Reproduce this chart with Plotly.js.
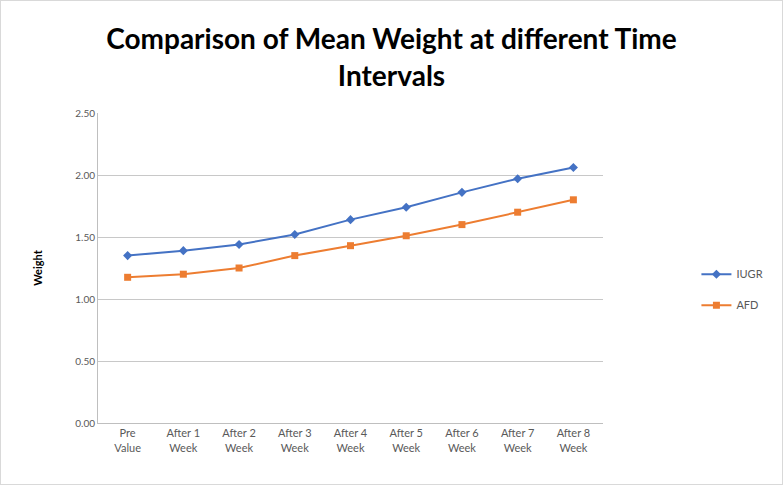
<!DOCTYPE html>
<html>
<head>
<meta charset="utf-8">
<script src="https://cdn.plot.ly/plotly-3.0.1.min.js"></script>
<style>
html,body{margin:0;padding:0;background:#fff;}
#chart{width:781px;height:483px;border:1px solid #d9d9d9;}
</style>
</head>
<body>
<div id="chart"></div>
<script>
const categories = ["Pre<br>Value","After 1<br>Week","After 2<br>Week","After 3<br>Week","After 4<br>Week","After 5<br>Week","After 6<br>Week","After 7<br>Week","After 8<br>Week"];
const iugr = [1.35, 1.39, 1.44, 1.52, 1.64, 1.74, 1.86, 1.97, 2.06];
const afd = [1.175, 1.20, 1.25, 1.35, 1.43, 1.51, 1.60, 1.70, 1.80];
const yTicks = [0, 0.5, 1.0, 1.5, 2.0, 2.5];

const traces = [
  {x: categories, y: iugr, name: "IUGR", type: "scatter", mode: "lines+markers", legendgroup: "g1",
   line: {color: "#4472C4", width: 2}, marker: {symbol: "diamond", size: 7, color: "#4472C4"}},
  {x: categories, y: afd, name: "AFD", type: "scatter", mode: "lines+markers", legendgroup: "g2",
   line: {color: "#ED7D31", width: 2}, marker: {symbol: "square", size: 7, color: "#ED7D31"}}
];

const layout = {
  width: 781, height: 483,
  margin: {l: 97, r: 179, t: 112, b: 61},
  paper_bgcolor: "#fff", plot_bgcolor: "#fff",
  font: {family: "Lato, 'Open Sans', sans-serif", color: "#595959"},
  title: {text: "<b>Comparison of Mean Weight at different Time<br>Intervals</b>",
          x: 0.5, xanchor: "center", y: 0.9, yanchor: "top",
          font: {size: 28, color: "#000", family: "Lato, 'Open Sans', sans-serif"}},
  xaxis: {showgrid: false, showline: true, linecolor: "#bfbfbf", linewidth: 1,
          ticks: "", tickfont: {size: 11, color: "#595959"}, fixedrange: true},
  yaxis: {range: [0, 2.5], tickvals: yTicks, ticktext: yTicks.map(v => v.toFixed(2)),
          showgrid: true, gridcolor: "#c8c8c8", gridwidth: 1, zeroline: false,
          showline: true, linecolor: "#bfbfbf", ticks: "",
          tickfont: {size: 10, color: "#595959"},
          title: {text: "<b>Weight</b>", standoff: 30, font: {size: 11, color: "#000"}}},
  legend: {x: 1.185, xanchor: "left", y: 0.43, yanchor: "middle", traceorder: "grouped",
           font: {size: 11, color: "#595959"}, tracegroupgap: 12, itemwidth: 30},
  showlegend: true
};

Plotly.newPlot("chart", traces, layout, {displayModeBar: false, staticPlot: true});
</script>
</body>
</html>
